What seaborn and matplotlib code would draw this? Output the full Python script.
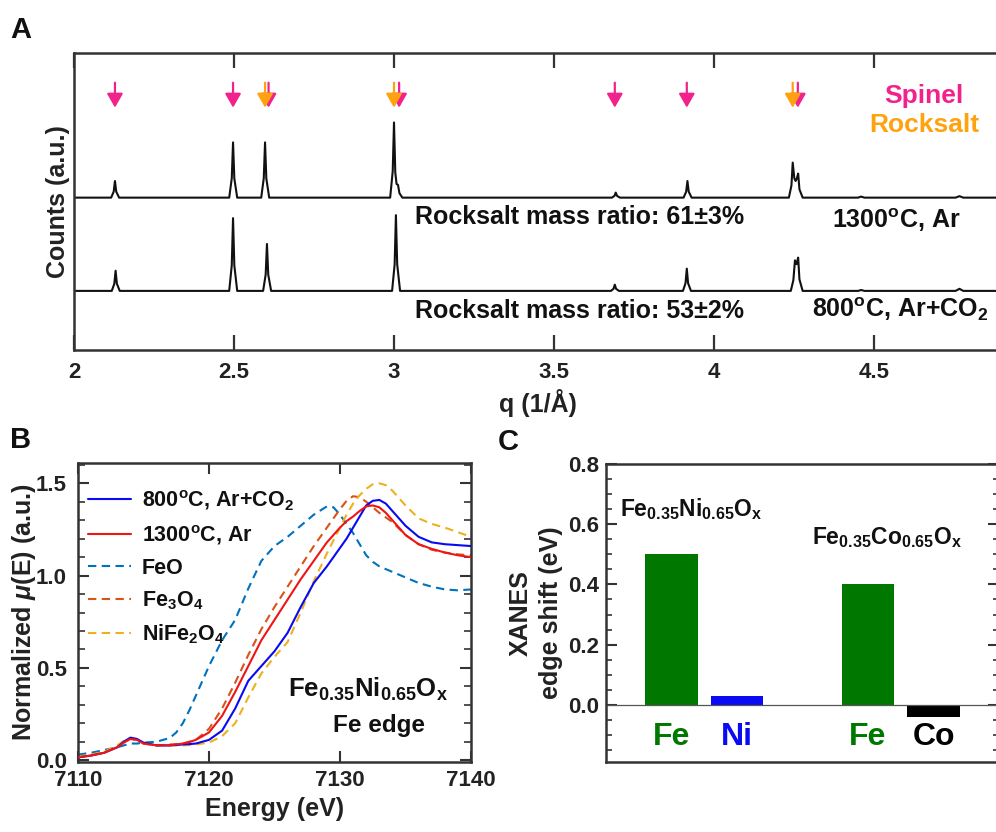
import numpy as np
import pandas as pd
import matplotlib
matplotlib.use("Agg")
import matplotlib.pyplot as plt
import seaborn as sns
from matplotlib.ticker import FixedLocator, MultipleLocator

# ---------------- Panel A : XRD patterns ----------------
q_1300 = [2.000,
          2.116, 2.124, 2.128, 2.132, 2.141,
          2.485, 2.493, 2.497, 2.501, 2.510,
          2.585, 2.593, 2.597, 2.601, 2.610,
          2.988, 2.996, 3.000, 3.004, 3.008, 3.0125, 3.017, 3.026,
          3.681, 3.689, 3.693, 3.697, 3.706,
          3.905, 3.913, 3.917, 3.921, 3.930,
          4.234, 4.242, 4.246, 4.251, 4.255, 4.259, 4.263, 4.267, 4.277,
          4.450, 4.460, 4.470,
          4.755, 4.767, 4.779,
          4.900]
counts_1300 = [0,
               0, 2.0, 5.6, 2.0, 0,
               0, 6.5, 18.6, 6.5, 0,
               0, 6.5, 18.6, 6.5, 0,
               0, 8.9, 25.3, 8.5, 4.6, 4.3, 1.5, 0,
               0, 0.6, 1.7, 0.6, 0,
               0, 2.0, 5.6, 2.0, 0,
               0, 4.1, 11.8, 6.5, 5.6, 6.5, 8.1, 2.8, 0,
               0, 0.35, 0,
               0, 0.5, 0,
               0]
q_800 = [2.000,
         2.118, 2.126, 2.130, 2.134, 2.143,
         2.485, 2.493, 2.497, 2.501, 2.510,
         2.591, 2.599, 2.603, 2.607, 2.616,
         2.994, 3.002, 3.006, 3.010, 3.019,
         3.678, 3.686, 3.690, 3.694, 3.703,
         3.903, 3.911, 3.915, 3.919, 3.928,
         4.240, 4.248, 4.253, 4.258, 4.263, 4.267, 4.277,
         4.450, 4.460, 4.470,
         4.755, 4.767, 4.779,
         4.900]
counts_800 = [0,
              0, 2.4, 6.8, 2.4, 0,
              0, 8.6, 24.5, 8.6, 0,
              0, 5.5, 15.8, 5.5, 0,
              0, 8.9, 25.5, 8.9, 0,
              0, 0.7, 2.1, 0.7, 0,
              0, 2.6, 7.5, 2.6, 0,
              0, 3.6, 10.3, 9.0, 11.2, 3.9, 0,
              0, 0.3, 0,
              0, 0.7, 0,
              0]
spinel_q = [2.128, 2.497, 2.608, 3.016, 3.690, 3.915, 4.262]
rocksalt_q = [2.597, 3.000, 4.246]
a_xticks = [2, 2.5, 3, 3.5, 4, 4.5]
a_xticklabels = ["2", "2.5", "3", "3.5", "4", "4.5"]
ratio_1300 = "Rocksalt mass ratio: 61\u00b13%"
ratio_800 = "Rocksalt mass ratio: 53\u00b12%"
cond_1300 = "1300$^{\\mathrm{o}}$C, Ar"
cond_800 = "800$^{\\mathrm{o}}$C, Ar+CO$_{\\mathrm{2}}$"

# ---------------- Panel B : XANES Fe edge ----------------
energy = [7110, 7111, 7112, 7113, 7113.5, 7114, 7114.5, 7115, 7116, 7117,
          7117.5, 7118, 7118.5, 7119, 7120, 7121, 7122, 7123, 7124, 7125,
          7126, 7127, 7128, 7129, 7129.5, 7130, 7130.5, 7131, 7131.5, 7132,
          7132.5, 7133, 7133.5, 7134, 7135, 7136, 7137, 7138, 7139, 7140]
mu_800 = [0.015, 0.025, 0.04, 0.07, 0.10, 0.122, 0.115, 0.095, 0.08, 0.08,
          0.082, 0.085, 0.087, 0.09, 0.11, 0.16, 0.28, 0.43, 0.51, 0.59,
          0.69, 0.83, 0.96, 1.05, 1.10, 1.15, 1.20, 1.26, 1.32, 1.38,
          1.405, 1.41, 1.39, 1.35, 1.27, 1.21, 1.18, 1.17, 1.165, 1.16]
mu_1300 = [0.015, 0.025, 0.04, 0.07, 0.095, 0.115, 0.11, 0.09, 0.08, 0.08,
           0.085, 0.09, 0.098, 0.11, 0.15, 0.24, 0.37, 0.51, 0.65, 0.76,
           0.87, 0.98, 1.08, 1.18, 1.22, 1.26, 1.295, 1.32, 1.35, 1.375,
           1.38, 1.37, 1.34, 1.30, 1.22, 1.17, 1.145, 1.125, 1.11, 1.10]
mu_FeO = [0.03, 0.04, 0.055, 0.07, 0.08, 0.09, 0.09, 0.095, 0.10, 0.12,
          0.15, 0.20, 0.27, 0.35, 0.51, 0.65, 0.76, 0.93, 1.08, 1.16,
          1.21, 1.27, 1.33, 1.375, 1.37, 1.33, 1.28, 1.23, 1.17, 1.11,
          1.075, 1.05, 1.035, 1.02, 0.99, 0.96, 0.94, 0.925, 0.92, 0.925]
mu_Fe3O4 = [0.02, 0.03, 0.045, 0.075, 0.10, 0.115, 0.11, 0.09, 0.08, 0.085,
            0.087, 0.09, 0.10, 0.11, 0.17, 0.28, 0.42, 0.57, 0.71, 0.83,
            0.94, 1.05, 1.16, 1.26, 1.31, 1.36, 1.405, 1.43, 1.425, 1.40,
            1.37, 1.34, 1.315, 1.29, 1.22, 1.17, 1.14, 1.125, 1.115, 1.11]
mu_NiFe2O4 = [0.02, 0.03, 0.045, 0.08, 0.105, 0.12, 0.11, 0.09, 0.08, 0.08,
              0.08, 0.08, 0.082, 0.085, 0.095, 0.13, 0.20, 0.34, 0.47, 0.56,
              0.64, 0.80, 0.97, 1.12, 1.19, 1.26, 1.33, 1.39, 1.435, 1.47,
              1.495, 1.50, 1.49, 1.46, 1.38, 1.31, 1.28, 1.26, 1.235, 1.21]
b_labels = ["800$^{\\mathrm{o}}$C, Ar+CO$_{\\mathrm{2}}$", "1300$^{\\mathrm{o}}$C, Ar",
            "FeO", "Fe$_{\\mathrm{3}}$O$_{\\mathrm{4}}$", "NiFe$_{\\mathrm{2}}$O$_{\\mathrm{4}}$"]
b_yticks = [0.0, 0.5, 1.0, 1.5]
b_xticks = [7110, 7120, 7130, 7140]

# ---------------- Panel C : edge shifts ----------------
c_pos = [0, 1, 3, 4]
c_elements = ["Fe", "Ni", "Fe", "Co"]
c_shift = [0.50, 0.03, 0.40, -0.04]
c_compounds = ["Fe$_{\\mathrm{0.35}}$Ni$_{\\mathrm{0.65}}$O$_{\\mathrm{x}}$",
               "Fe$_{\\mathrm{0.35}}$Co$_{\\mathrm{0.65}}$O$_{\\mathrm{x}}$"]

# ---------------- style ----------------
sns.set_style("ticks")
plt.rcParams.update({
    "font.family": ["Liberation Sans", "DejaVu Sans"],
    "font.weight": "bold",
    "axes.labelweight": "bold",
    "mathtext.fontset": "custom",
    "mathtext.rm": "Liberation Sans:bold",
    "mathtext.bf": "Liberation Sans:bold",
    "mathtext.it": "Liberation Sans:italic:bold",
    "mathtext.default": "rm",
    "axes.edgecolor": "#333333",
    "axes.linewidth": 1.8,
    "xtick.color": "#333333",
    "ytick.color": "#333333",
    "xtick.labelcolor": "#222222",
    "ytick.labelcolor": "#222222",
    "text.color": "#111111",
    "axes.labelcolor": "#222222",
})

PINK = "#F2228C"
ORANGE = "#FFA20F"

W, H = 996, 832
fig = plt.figure(figsize=(W / 100, H / 100), dpi=100)
axA = fig.add_axes([74 / W, 1 - 350 / H, (1002 - 74) / W, 297 / H])
axB = fig.add_axes([78 / W, 1 - 762 / H, 393 / W, 299 / H])
axC = fig.add_axes([606 / W, 1 - 762 / H, 393 / W, 298 / H])

# ---- Panel A ----
off_top, off_bot = 51.3, 19.9
sns.lineplot(x=q_1300, y=np.array(counts_1300) + off_top, ax=axA, color="#111111",
             lw=1.5, estimator=None, sort=False)
sns.lineplot(x=q_800, y=np.array(counts_800) + off_bot, ax=axA, color="#111111",
             lw=1.5, estimator=None, sort=False)
for qs, col in ((spinel_q, PINK), (rocksalt_q, ORANGE)):
    for q in qs:
        axA.annotate("", xy=(q, 81.6), xytext=(q, 90.0),
                     arrowprops=dict(arrowstyle="-|>,head_length=0.42,head_width=0.24",
                                     color=col, lw=1.6, mutation_scale=20,
                                     shrinkA=0, shrinkB=0))
axA.set_xlim(2, 4.9)
axA.set_ylim(0, 100)
axA.set_yticks([])
axA.xaxis.set_major_locator(FixedLocator(a_xticks))
axA.set_xticklabels(a_xticklabels)
axA.tick_params(axis="x", direction="in", top=True, bottom=True, length=11,
                width=1.6, labelsize=16, pad=9)
axA.set_xlabel("q (1/\u00c5)", fontsize=18, labelpad=4)
axA.set_ylabel("Counts (a.u.)", fontsize=18, labelpad=3)
axA.text(3.066, 42.4, ratio_1300, fontsize=18, ha="left", va="baseline")
axA.text(3.066, 10.8, ratio_800, fontsize=18, ha="left", va="baseline")
axA.text(4.369, 41.1, cond_1300, fontsize=18, ha="left", va="baseline")
axA.text(4.306, 11.1, cond_800, fontsize=18, ha="left", va="baseline")
axA.text(4.656, 83.2, "Spinel", color=PINK, fontsize=19, ha="center", va="baseline")
axA.text(4.656, 73.4, "Rocksalt", color=ORANGE, fontsize=19, ha="center", va="baseline")

# ---- Panel B ----
dash = (0, (4, 2.6))
b_series = [(mu_800, "#0A0AF0", "-"), (mu_1300, "#F01414", "-"),
            (mu_FeO, "#0072BD", dash), (mu_Fe3O4, "#D95319", dash),
            (mu_NiFe2O4, "#EDB120", dash)]
handles = []
for (vals, col, ls), lab in zip(b_series, b_labels):
    sns.lineplot(x=energy, y=vals, ax=axB, color=col, lw=1.5, estimator=None,
                 sort=False, label=lab, legend=False)
    ln = axB.get_lines()[-1]
    ln.set_linestyle(ls)
    ln.set_zorder(3 if ls == "-" else 2)
    handles.append(ln)
axB.legend(handles, b_labels, loc="upper left", bbox_to_anchor=(0.025, 0.915),
           frameon=False, fontsize=15.5, handlelength=2.0, handletextpad=0.5,
           labelspacing=0.5, borderaxespad=0, borderpad=0)
axB.set_xlim(7110, 7140)
axB.set_ylim(-0.01, 1.61)
axB.xaxis.set_major_locator(FixedLocator(b_xticks))
axB.yaxis.set_major_locator(FixedLocator(b_yticks))
axB.yaxis.set_minor_locator(MultipleLocator(0.1))
axB.tick_params(which="both", direction="in", top=True, right=True, labelsize=16)
axB.tick_params(which="major", length=8, width=1.5)
axB.tick_params(which="minor", length=5, width=1.2)
axB.tick_params(axis="y", pad=8)
axB.tick_params(axis="x", pad=6)
axB.set_xlabel("Energy (eV)", fontsize=18, labelpad=4)
axB.set_ylabel("Normalized $\\mathit{\\mu}$(E) (a.u.)", fontsize=18, labelpad=-1.5)
axB.text(7132.1, 0.342, c_compounds[0], fontsize=18.5, ha="center", va="baseline")
axB.text(7133.0, 0.152, "Fe edge", fontsize=17.5, ha="center", va="baseline")

# ---- Panel C ----
df_c = pd.DataFrame({"pos": c_pos, "shift": c_shift, "element": c_elements})
el_colors = {"Fe": "#007800", "Ni": "#0A0AF5", "Co": "#000000"}
sns.barplot(data=df_c, x="pos", y="shift", hue="element", palette=el_colors,
            native_scale=True, dodge=False, width=0.8, errorbar=None,
            legend=False, saturation=1, linewidth=0, ax=axC)
axC.axhline(0, color="#555555", lw=0.9, zorder=1)
axC.set_xlim(-1, 5)
axC.set_ylim(-0.19, 0.8)
axC.set_xticks([])
axC.yaxis.set_major_locator(MultipleLocator(0.2))
axC.yaxis.set_minor_locator(MultipleLocator(0.05))
axC.tick_params(axis="y", which="both", direction="in", left=True, right=True,
                labelsize=16, pad=5)
axC.tick_params(axis="y", which="major", length=8, width=1.5)
axC.tick_params(axis="y", which="minor", length=4, width=1.2)
axC.set_xlabel("")
axC.set_ylabel("XANES\nedge shift (eV)", fontsize=18, linespacing=1.3, labelpad=4)
for p, el in zip(c_pos, c_elements):
    axC.text(p, -0.133, el, color=el_colors[el], fontsize=23, ha="center",
             va="baseline")
axC.text(-0.79, 0.627, c_compounds[0], fontsize=16.5, ha="left", va="baseline")
axC.text(2.15, 0.533, c_compounds[1], fontsize=16.5, ha="left", va="baseline")

# panel letters
fig.text(10 / W, 1 - 16 / H, "A", fontsize=21, va="top", ha="left")
fig.text(10 / W, 1 - 426 / H, "B", fontsize=21, va="top", ha="left")
fig.text(498 / W, 1 - 428 / H, "C", fontsize=21, va="top", ha="left")

fig.savefig("out.png", dpi=100)
